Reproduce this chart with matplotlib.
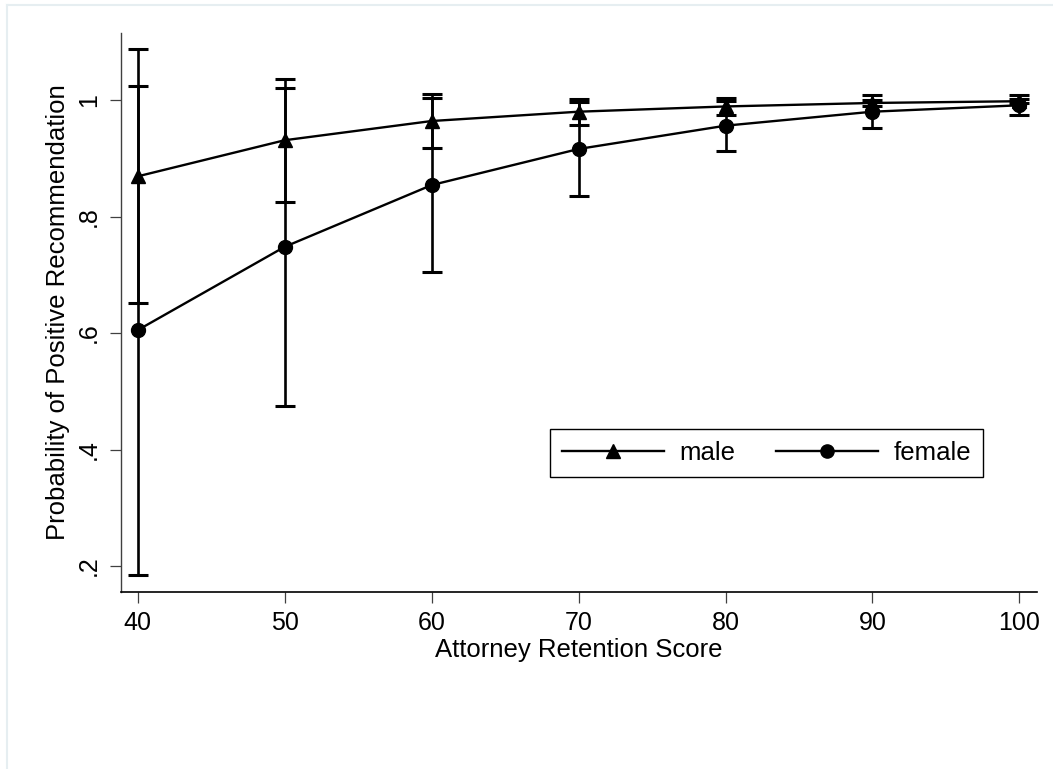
import numpy as np
import matplotlib
matplotlib.use("Agg")
import matplotlib.pyplot as plt
from matplotlib.lines import Line2D

plt.rcParams['font.family'] = ['Liberation Sans', 'DejaVu Sans']

# Data
score = [40, 50, 60, 70, 80, 90, 100]

male_p = [0.869, 0.931, 0.964, 0.980, 0.989, 0.995, 0.998]
male_lo = [0.651, 0.825, 0.918, 0.958, 0.974, 0.990, 0.995]
male_hi = [1.087, 1.036, 1.010, 1.002, 1.004, 1.000, 1.001]

female_p = [0.605, 0.748, 0.854, 0.916, 0.956, 0.980, 0.991]
female_lo = [0.185, 0.475, 0.704, 0.836, 0.913, 0.952, 0.974]
female_hi = [1.024, 1.021, 1.004, 0.996, 0.999, 1.008, 1.008]

yticks = [0.2, 0.4, 0.6, 0.8, 1.0]
ytick_labels = [".2", ".4", ".6", ".8", "1"]

fig = plt.figure(figsize=(10.53, 7.69), dpi=100)
ax = fig.add_axes([0.1146, 0.2302, 0.8700, 0.7268])

# confidence intervals
for p, lo, hi in [(male_p, male_lo, male_hi), (female_p, female_lo, female_hi)]:
    p = np.array(p)
    err = [p - np.array(lo), np.array(hi) - p]
    ax.errorbar(score, p, yerr=err, fmt='none', ecolor='black',
                elinewidth=1.9, capsize=7, capthick=2.2, clip_on=False, zorder=2)

ax.plot(score, male_p, color='black', lw=1.7, marker='^', ms=10,
        label='male', clip_on=False, zorder=3)
ax.plot(score, female_p, color='black', lw=1.7, marker='o', ms=10,
        label='female', clip_on=False, zorder=3)

ax.set_xlim(38.84, 101.18)
ax.set_ylim(0.1554, 1.115)
ax.set_xticks(score)
ax.set_yticks(yticks)
ax.set_yticklabels(ytick_labels, rotation=90, va='center')

for s in ['top', 'right']:
    ax.spines[s].set_visible(False)
ax.spines['left'].set_color('#404040')
ax.spines['bottom'].set_color('black')
ax.spines['left'].set_linewidth(1.0)
ax.spines['bottom'].set_linewidth(1.2)
ax.tick_params(axis='both', length=8, width=0.9, color='#404040',
               labelsize=18, pad=6)

ax.set_xlabel("Attorney Retention Score", fontsize=18.5, labelpad=2)
ax.set_ylabel("Probability of Positive Recommendation", fontsize=18.5, labelpad=5)

leg = ax.legend(loc='center', bbox_to_anchor=(0.705, 0.2487), ncol=2,
                fontsize=18.5, handlelength=4.0, handletextpad=0.6,
                columnspacing=1.55, borderpad=0.45, fancybox=False,
                framealpha=1, edgecolor='black', markerscale=0.95)
leg.get_frame().set_linewidth(1.0)

# faint graph-region outline
fig.add_artist(Line2D([7 / 1053, 7 / 1053], [0, 1 - 5 / 769],
                      transform=fig.transFigure, color='#e6eef1', lw=1.5))
fig.add_artist(Line2D([7 / 1053, 1], [1 - 5 / 769, 1 - 5 / 769],
                      transform=fig.transFigure, color='#e6eef1', lw=1.5))

fig.savefig("out.png", dpi=100)
